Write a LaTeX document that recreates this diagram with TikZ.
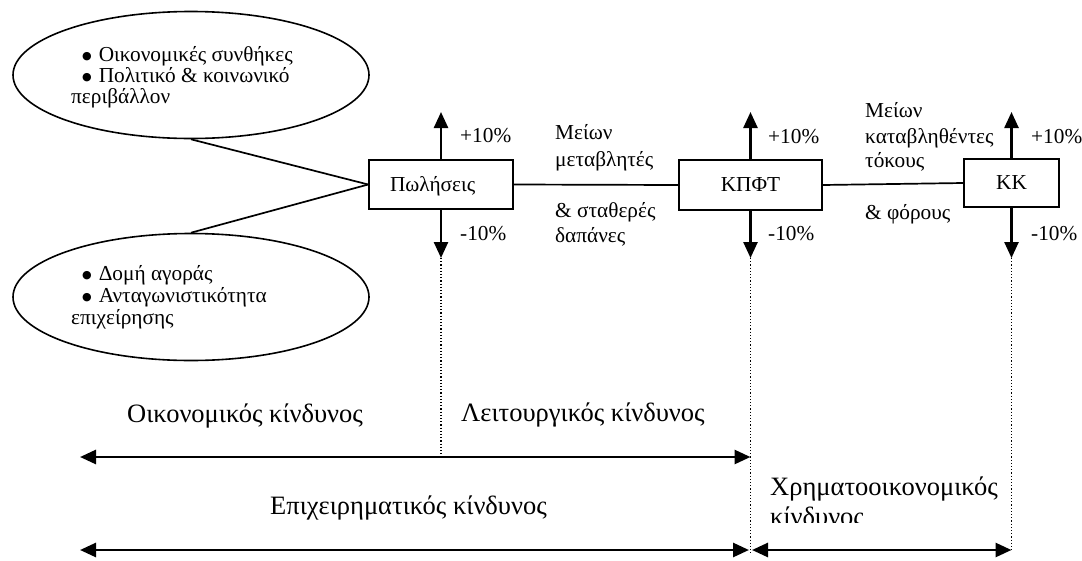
\documentclass[tikz,border=0pt]{standalone}
\usepackage{fontspec}
\setmainfont{Liberation Serif}
\newfontfamily\djv{DejaVu Sans}
\usetikzlibrary{shapes.geometric,arrows.meta}
\newcommand\fsm{\fontsize{21.3}{25}\selectfont}
\newcommand\fbig{\fontsize{26.5}{31}\selectfont}
\newcommand\blt{\raisebox{1.5pt}{\djv\fontsize{11}{11}\selectfont ●}\hspace{7pt}}
\begin{document}
\begin{tikzpicture}[x=1pt,y=-1pt,
  lbl/.style={inner sep=0pt, anchor=base west, font=\fsm},
  big/.style={inner sep=0pt, anchor=base west, font=\fbig},
  ell/.style={draw, line width=1.6pt, ellipse, minimum width=356pt, minimum height=127pt, inner sep=0pt},
  box/.style={draw, line width=1.7pt, font=\fsm, inner sep=0pt, text height=14pt, text depth=1pt},
  link/.style={line width=1.7pt},
  varr/.style={line width=2.5pt, -{Triangle[length=16pt,width=14pt]}},
  harr/.style={line width=2.7pt, {Triangle[length=16pt,width=14pt]}-{Triangle[length=16pt,width=14pt]}},
  dots/.style={line width=1.2pt, dotted},
]
\useasboundingbox (0,0) rectangle (1082,560);

% ellipses
\node[ell] (ellTop) at (191,75) {};
\node[ell] (ellBot) at (191,297) {};
\node[lbl] (t1) at (82,61) {\blt Οικονομικές συνθήκες};
\node[lbl] (t2) at (82,82) {\blt Πολιτικό \& κοινωνικό};
\node[lbl] (t3) at (71,103) {περιβάλλον};
\node[lbl] (b1) at (82,280) {\blt Δομή αγοράς};
\node[lbl] (b2) at (82,302) {\blt Ανταγωνιστικότητα};
\node[lbl] (b3) at (71,324) {επιχείρησης};

% boxes
\node[box, minimum height=49pt, text width=102pt, inner xsep=21pt, align=left] (sales) at (441,184.5) {Πωλήσεις};
\node[box, minimum width=143pt, minimum height=50pt] (kpft) at (750.5,185) {ΚΠΦΤ};
\node[box, minimum width=95pt, minimum height=48pt] (kk) at (1011.5,183) {ΚΚ};

\draw[link] (ellTop.south) -- (sales.west);
\draw[link] (ellBot.north) -- (sales.west);
\draw[link] (sales.east) -- (kpft.west);
\draw[link] (kpft.east) -- (kk.west);

% up/down arrows
\coordinate (sU) at (441,112);
\coordinate (sD) at (441,258);
\coordinate (pU) at (750.5,112);
\coordinate (pD) at (750.5,258);
\coordinate (kU) at (1011.5,112);
\coordinate (kD) at (1011.5,258);
\draw[varr] (sales.north) -- (sU);
\draw[varr] (sales.south) -- (sD);
\draw[varr] (kpft.north) -- (pU);
\draw[varr] (kpft.south) -- (pD);
\draw[varr] (kk.north) -- (kU);
\draw[varr] (kk.south) -- (kD);

\node[lbl] (sp) at (460,142) {+10\%};
\node[lbl] (sm) at (460,240) {-10\%};
\node[lbl] (pp) at (768,143) {+10\%};
\node[lbl] (pm) at (768,240) {-10\%};
\node[lbl] (kp) at (1031,143) {+10\%};
\node[lbl] (km) at (1031,240) {-10\%};

\node[lbl] (m1) at (555,139) {Μείων};
\node[lbl] (m2) at (555,166) {μεταβλητές};
\node[lbl] (m3) at (555,217) {\& σταθερές};
\node[lbl] (m4) at (555,242) {δαπάνες};
\node[lbl] (n1) at (865,117) {Μείων};
\node[lbl] (n2) at (865,143) {καταβληθέντες};
\node[lbl] (n3) at (865,167) {τόκους};
\node[lbl] (n4) at (865,219) {\& φόρους};

% dotted guides
\coordinate (a1L) at (80,457);
\coordinate (a1R) at (750.5,457);
\coordinate (a2L) at (80,550);
\coordinate (a2R) at (749,550);
\coordinate (a3L) at (752,550);
\coordinate (a3R) at (1011.5,550);
\coordinate (d1) at (441,457);
\coordinate (d2) at (750.5,553);
\coordinate (d3) at (1011.5,550);
\draw[dots] (sD) -- (d1);
\draw[dots] (pD) -- (d2);
\draw[dots] (kD) -- (d3);

\draw[harr] (a1L) -- (a1R);
\draw[harr] (a2L) -- (a2R);
\draw[harr] (a3L) -- (a3R);

\node[big] (r1) at (127,422) {Οικονομικός κίνδυνος};
\node[big] (r2) at (461,421) {Λειτουργικός κίνδυνος};
\node[big] (r3) at (270,514) {Επιχειρηματικός κίνδυνος};
\node[big] (r4) at (770,495) {Χρηματοοικονομικός};
\begin{scope}
\clip (760,500) rectangle (1082,522);
\node[big] (r5) at (770,525) {κίνδυνος};
\end{scope}
\end{tikzpicture}
\end{document}
